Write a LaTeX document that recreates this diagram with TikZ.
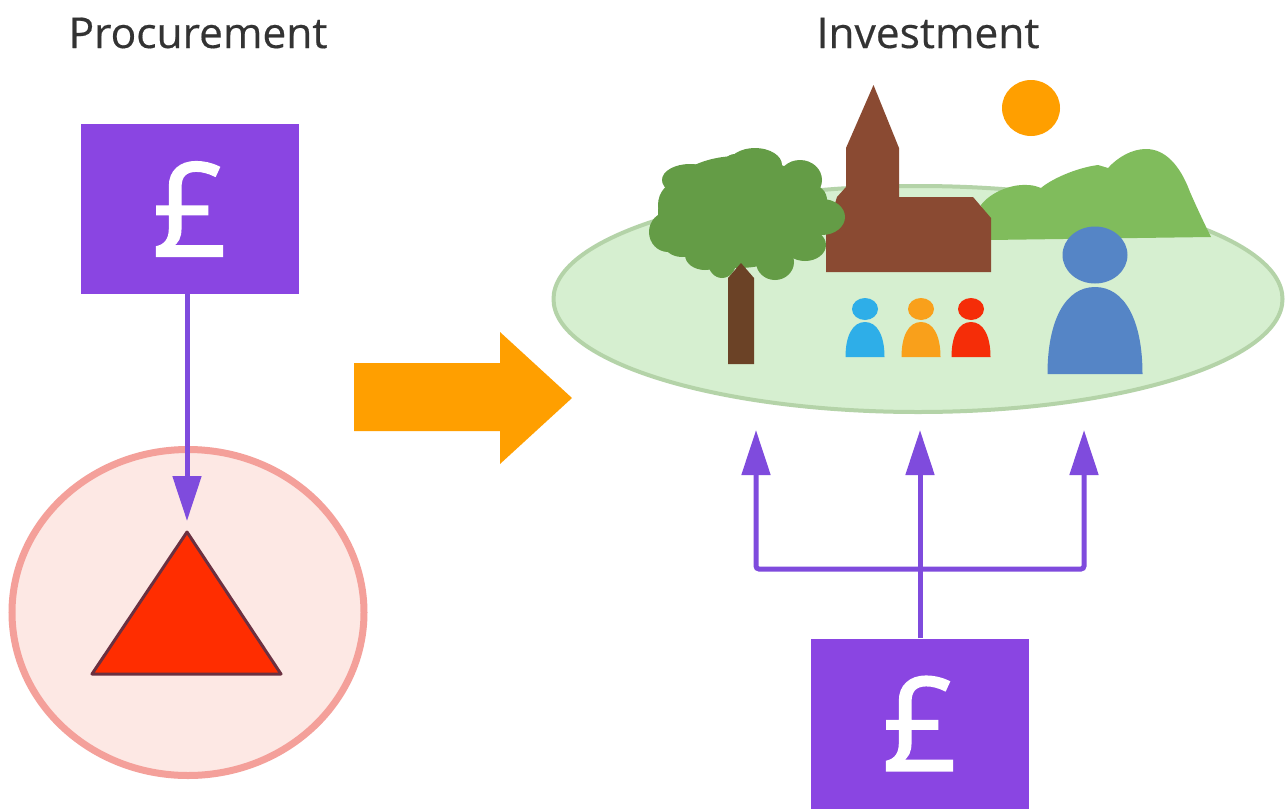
\documentclass[tikz,border=0pt]{standalone}
\usepackage{fontspec}
\setmainfont{Open Sans}
\newfontfamily\poundfont[FakeBold=1.6]{Open Sans}
\newfontfamily\titlefont[FakeBold=0.4]{Open Sans}
\usetikzlibrary{arrows.meta,shapes.geometric}
\definecolor{purp}{HTML}{8A45E2}
\definecolor{purpl}{HTML}{7F4BDD}
\definecolor{orng}{HTML}{FF9F00}
\definecolor{lawn}{HTML}{D6EFD0}
\definecolor{lawnedge}{HTML}{B4D3A8}
\definecolor{hill}{HTML}{80BC5C}
\definecolor{crown}{HTML}{649C46}
\definecolor{trunk}{HTML}{6B4226}
\definecolor{church}{HTML}{8A4A32}
\definecolor{pblue}{HTML}{5585C6}
\definecolor{cyanp}{HTML}{2EAEE8}
\definecolor{orp}{HTML}{F9A01B}
\definecolor{redp}{HTML}{F52D08}
\definecolor{ringedge}{HTML}{F4A09A}
\definecolor{ringfill}{HTML}{FDE8E4}
\definecolor{trired}{HTML}{FF2D00}
\definecolor{triedge}{HTML}{6B3040}
\newcommand{\personfig}[8]{%
  \fill[#8] (#1,#2) ellipse [x radius=#3, y radius=#4];
  \fill[#8] ({#1-#5},#7) .. controls ({#1-#5},{#6+0.38*(#7-#6)}) and ({#1-0.62*#5},#6) .. (#1,#6)
     .. controls ({#1+0.62*#5},#6) and ({#1+#5},{#6+0.38*(#7-#6)}) .. ({#1+#5},#7) -- cycle;}
\tikzset{
  title/.style={text=black!80, font=\titlefont\fontsize{42.5}{42.5}\selectfont, anchor=base, inner sep=0pt},
  moneybox/.style={fill=purp, text=white, minimum width=218pt, minimum height=170pt, inner sep=0pt, font=\poundfont\fontsize{130}{130}\selectfont},
  flow/.style={draw=purpl, line width=5pt},
  flowtip/.style={flow, rounded corners=3pt, -{Triangle[width=28pt,length=45pt]}},
}
\begin{document}
\begin{tikzpicture}[x=1pt,y=-1pt]
\useasboundingbox (0,0) rectangle (1285,809);
\clip (0,0) rectangle (1285,809);
\fill[white] (0,0) rectangle (1285,809);
\node[title] (tproc) at (198,48) {Procurement};
\node[title] (tinv) at (928,48) {Investment};

% left
\node[moneybox] (box1) at (190,209) {£};
\node[ellipse, draw=ringedge, fill=ringfill, line width=7pt, minimum width=352pt, minimum height=326pt, inner sep=0pt] (ring) at (188,612.5) {};
\coordinate (apex) at (187,532);
\filldraw[fill=trired, draw=triedge, line width=3pt, line join=round] (apex) -- (92,674) -- (281,674) -- cycle;
\coordinate (tipa) at (187,521);
\draw[flowtip] (box1.south -| tipa) -- (tipa);

% big arrow
\fill[orng] (354,363) -- (500,363) -- (500,332) -- (572,398) -- (500,464) -- (500,431) -- (354,431) -- cycle;

% scene
\node[ellipse, draw=lawnedge, fill=lawn, line width=4pt, minimum width=729pt, minimum height=226pt, inner sep=0pt] (lawnshape) at (918,299) {};
\fill[hill] (989,240) -- (981,205) .. controls (990,193) and (1010,184) .. (1027,185)
  .. controls (1034,185) and (1038,187) .. (1041,188) .. controls (1050,180) and (1075,168) .. (1098,165) -- (1108,168)
  .. controls (1118,157) and (1132,149) .. (1146,149) .. controls (1165,149) and (1180,165) .. (1190,192)
  .. controls (1197,208) and (1205,225) .. (1211,237) -- cycle;
\fill[church] (873.5,85) -- (846,148) -- (846,187) -- (837,197) -- (826,233) -- (826,272) -- (991,272) -- (991,218) -- (973,197) -- (899,197) -- (899,148) -- cycle;
\fill[crown] (738,212) ellipse [x radius=80, y radius=56];
\foreach \cx/\cy/\rx/\ry in {755/165/27/17, 712/188/24/23, 706/180/20/15, 690/180/28/16, 800/180/22/20, 680/205/22/24, 668/232/19/20, 682/240/20/17, 705/255/20/15, 722/262/14/16, 775/262/19/18, 805/245/21/16, 822/217/23/18, 812/200/15/15, 735/170/14/16}
  \fill[crown] (\cx,\cy) ellipse [x radius=\rx, y radius=\ry];
\fill[trunk] (728,364) -- (728,278) -- (741,263) -- (754,278) -- (754,364) -- cycle;
\fill[orng] (1031,108) ellipse [x radius=29, y radius=28];
\personfig{1095}{255}{32.5}{28.5}{47.5}{287}{374}{pblue}
\personfig{865}{309}{13}{11}{19.5}{322}{357}{cyanp}
\personfig{921}{309}{13}{11}{19.5}{322}{357}{orp}
\personfig{971}{309}{13}{11}{19.5}{322}{357}{redp}

% right flows
\node[moneybox] (box2) at (920,723.5) {£};
\coordinate (tipl) at (756,430);
\coordinate (tipm) at (920,430);
\coordinate (tipr) at (1084,430);
\coordinate (junc) at (920,569);
\draw[flow] (box2.north) -- (junc);
\draw[flowtip] (junc) -- (tipm);
\draw[flowtip] (junc) -| (tipl);
\draw[flowtip] (junc) -| (tipr);
\end{tikzpicture}
\end{document}
